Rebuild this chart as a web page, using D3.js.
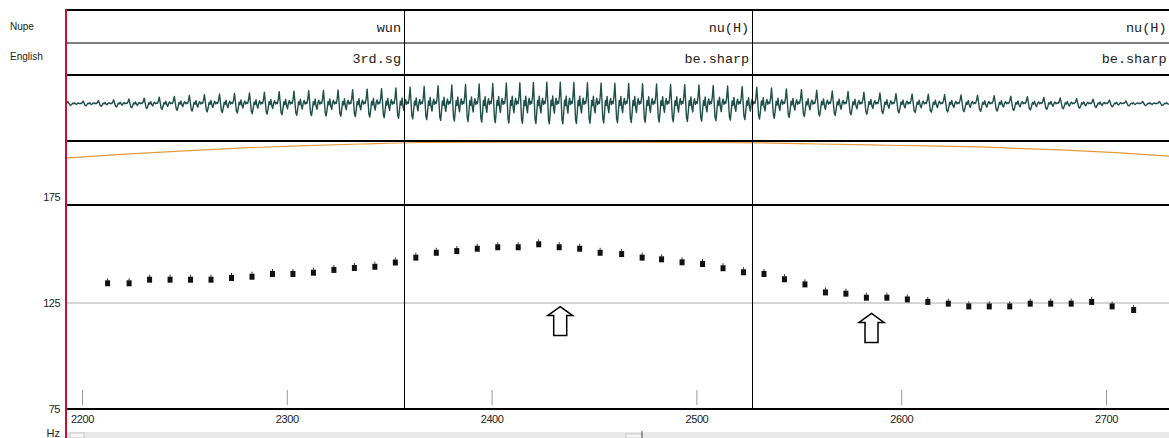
<!DOCTYPE html>
<html>
<head>
<meta charset="utf-8">
<script src="https://cdn.jsdelivr.net/npm/d3@7"></script>
<style>
  html, body { margin: 0; padding: 0; background: #fff; }
  svg { display: block; }
</style>
</head>
<body>
<svg id="chart" width="1169" height="438"></svg>
<script>
// tiers: segment ends (ms) and glosses
const segEnds = [2357, 2527, 2731];
const nupeLabels = ["wun", "nu(H)", "nu(H)"];
const englishLabels = ["3rd.sg", "be.sharp", "be.sharp"];

// pitch track (ms, Hz)
const pitchTimes = [2212.5, 2223, 2233, 2243, 2253, 2263, 2273, 2283, 2293, 2303,
  2313, 2323, 2333, 2343, 2353, 2363, 2373, 2383, 2393, 2403,
  2413, 2423, 2433, 2443, 2453, 2463.5, 2473.5, 2483, 2493, 2503,
  2513, 2523, 2533, 2543, 2553, 2563, 2573, 2583, 2593, 2603,
  2613, 2623, 2633, 2643, 2653, 2663, 2673, 2683, 2693, 2703, 2713.5];
const pitchHz = [134.3, 134.3, 136.0, 136.0, 136.0, 136.0, 136.8, 137.4, 138.7, 138.7,
  139.3, 140.6, 141.5, 142.1, 144.1, 146.4, 148.7, 149.5, 150.6, 151.3,
  151.3, 152.7, 151.3, 150.6, 148.7, 148.1, 146.4, 145.6, 144.2, 143.4,
  141.4, 139.5, 138.7, 136.2, 133.8, 130.0, 129.4, 127.5, 127.5, 126.7,
  125.5, 124.7, 123.4, 123.4, 123.4, 124.7, 124.7, 124.7, 125.5, 123.4, 121.7];

// intensity curve (ms, dB)
const intTimes = [2192, 2219, 2248, 2277, 2306, 2336, 2365, 2404, 2453, 2502, 2531, 2560, 2599, 2638, 2678, 2707, 2731];
const intDb = [72.0, 73.7, 75.3, 76.7, 77.7, 78.6, 79.3, 79.5, 79.5, 79.3, 79.1, 78.6, 77.9, 77.2, 75.8, 74.4, 72.9];

// waveform envelope (ms, relative amplitude) and one glottal period shape
const envTimes = [2192, 2209, 2233, 2258, 2282, 2306, 2331, 2355, 2380, 2404, 2429, 2453,
  2477, 2502, 2526, 2551, 2575, 2599, 2624, 2648, 2673, 2697, 2712, 2731];
const envAmp = [0.09, 0.14, 0.27, 0.41, 0.5, 0.59, 0.64, 0.73, 0.86, 0.95, 1.0, 0.95,
  0.91, 0.86, 0.77, 0.64, 0.55, 0.45, 0.41, 0.36, 0.27, 0.18, 0.1, 0.09];
const pulseShape = [0.0, 0.35, 1.0, 0.15, -0.75, -0.95, -0.45, 0.15, -0.1, 0.35, -0.2, -0.45, 0.05, 0.25, -0.05, 0.1];

// axis ticks
const timeTicks = [2200, 2300, 2400, 2500, 2600, 2700];
const hzTicks = [75, 125, 175];

// markers
const arrowTimes = [2433.5, 2585.5];
const arrowHz = [123.3, 120.1];

const svg = d3.select("#chart");
const left = 66, right = 1169;
const rows = { top: 10, nupe: 43, eng: 75, wave: 141, int: 205, bottom: 409 };

const x = d3.scaleLinear().domain([2200, 2700]).range([82, 1106]);
const tStart = x.invert(left), tEnd = x.invert(right);
const y = d3.scaleLinear().domain([75, 175]).range([409, 197]);
const iy = d3.scaleLinear().domain([50, 80]).range([rows.int, rows.wave]);
const wy = d3.scaleLinear().domain([-1, 1]).range([125, 82]);

// bottom scroll strip
svg.append("rect").attr("x", left).attr("y", 432).attr("width", right - left).attr("height", 6).attr("fill", "#e9e9e9");
svg.append("rect").attr("x", 70).attr("y", 433).attr("width", 14).attr("height", 5).attr("fill", "#f6f6f6").attr("stroke", "#bbb").attr("stroke-width", 0.8);
svg.append("rect").attr("x", 626).attr("y", 434).attr("width", 16).attr("height", 4).attr("fill", "#f6f6f6").attr("stroke", "#bbb").attr("stroke-width", 0.8);
svg.append("line").attr("x1", 642).attr("x2", 642).attr("y1", 431).attr("y2", 438).attr("stroke", "#555");

// grid line at 125
svg.append("line")
  .attr("x1", left).attr("x2", right)
  .attr("y1", y(125)).attr("y2", y(125))
  .attr("stroke", "#aaa").attr("stroke-width", 1);

// x axis ticks (upward) and labels
const xAxis = svg.append("g")
  .attr("transform", "translate(0,405)")
  .call(d3.axisBottom(x).tickValues(timeTicks).tickSize(-15).tickPadding(10).tickFormat(d3.format("d")));
xAxis.select(".domain").remove();
xAxis.selectAll("line").attr("stroke", "#999");
xAxis.selectAll("text")
  .attr("fill", "#222")
  .attr("font-family", "Liberation Sans, Arial, sans-serif")
  .attr("font-size", "11px")
  .attr("letter-spacing", "-0.4px");

// y axis labels
const yAxis = svg.append("g")
  .attr("transform", `translate(${left},0)`)
  .call(d3.axisLeft(y).tickValues(hzTicks).tickSize(0).tickPadding(6));
yAxis.select(".domain").remove();
yAxis.selectAll("text")
  .attr("fill", "#222")
  .attr("font-family", "Liberation Sans, Arial, sans-serif")
  .attr("font-size", "11px")
  .attr("letter-spacing", "-0.5px");

svg.append("text").attr("x", 60).attr("y", 437).attr("text-anchor", "end")
  .attr("font-family", "Liberation Sans, Arial, sans-serif").attr("font-size", "11px").attr("fill", "#222")
  .text("Hz");

// tier names
const tierFont = "Liberation Sans, Arial, sans-serif";
svg.append("text").attr("x", 10).attr("y", 30).attr("font-family", tierFont).attr("font-size", "10px").attr("fill", "#222").text("Nupe");
svg.append("text").attr("x", 10).attr("y", 60).attr("font-family", tierFont).attr("font-size", "10px").attr("fill", "#222").text("English");

// waveform built from pulse shape, pitch periods and envelope
const f0At = d3.scaleLinear().domain(pitchTimes).range(pitchHz).clamp(true);
const envAt = d3.scaleLinear().domain(envTimes).range(envAmp).clamp(true);
const wavePts = [];
for (let t = tStart; t < tEnd;) {
  const period = 1000 / f0At(t);
  const amp = envAt(t);
  pulseShape.forEach((v, i) => wavePts.push([t + period * i / pulseShape.length, v * amp]));
  t += period;
}
svg.append("path")
  .datum(wavePts.filter((d) => d[0] <= tEnd))
  .attr("fill", "none")
  .attr("stroke", "#1e4f49")
  .attr("stroke-width", 1.4)
  .attr("stroke-linejoin", "round")
  .attr("d", d3.line().x((d) => x(d[0])).y((d) => wy(d[1])));

// intensity curve
svg.append("path")
  .datum(intTimes.map((t, i) => [t, intDb[i]]))
  .attr("fill", "none")
  .attr("stroke", "#e79a3c")
  .attr("stroke-width", 1.2)
  .attr("d", d3.line().x((d) => x(d[0])).y((d) => iy(d[1])).curve(d3.curveMonotoneX));

// horizontal frame lines
const hLines = [
  { y: rows.top, w: 2 }, { y: rows.nupe, w: 1 }, { y: rows.eng, w: 2 },
  { y: rows.wave, w: 2 }, { y: rows.int, w: 2 }, { y: rows.bottom, w: 2 }
];
svg.selectAll(".hline").data(hLines).join("line")
  .attr("class", "hline")
  .attr("x1", left).attr("x2", right)
  .attr("y1", (d) => d.y).attr("y2", (d) => d.y)
  .attr("stroke", "#000").attr("stroke-width", (d) => d.w);

// segment boundaries
svg.selectAll(".bound").data(segEnds.slice(0, -1)).join("line")
  .attr("class", "bound")
  .attr("x1", (d) => Math.round(x(d)) + 0.5).attr("x2", (d) => Math.round(x(d)) + 0.5)
  .attr("y1", rows.top).attr("y2", rows.bottom)
  .attr("stroke", "#000").attr("stroke-width", 1);

// segment labels
const mono = "Liberation Mono, Courier New, monospace";
svg.selectAll(".nupe").data(segEnds).join("text")
  .attr("class", "nupe")
  .attr("x", (d) => Math.min(x(d), right) - 2.5).attr("y", 32)
  .attr("text-anchor", "end").attr("font-family", mono).attr("font-size", "13.5px").attr("fill", "#222")
  .text((d, i) => nupeLabels[i]);
svg.selectAll(".eng").data(segEnds).join("text")
  .attr("class", "eng")
  .attr("x", (d) => Math.min(x(d), right) - 2.5).attr("y", 63)
  .attr("text-anchor", "end").attr("font-family", mono).attr("font-size", "13.5px").attr("fill", "#222")
  .text((d, i) => englishLabels[i]);

// pitch points
const pts = svg.append("g").selectAll("g").data(pitchTimes).join("g")
  .attr("transform", (d, i) => `translate(${x(d)},${y(pitchHz[i])})`);
pts.append("rect").attr("x", -2.5).attr("y", -3).attr("width", 5).attr("height", 6).attr("fill", "#111");
pts.append("line").attr("x1", 0).attr("x2", 0).attr("y1", -5).attr("y2", -3).attr("stroke", "#333").attr("stroke-width", 1);

// hollow up arrows
const arrowPath = "M0,0 L12.5,9 L6.5,9 L6.5,29 L-6.5,29 L-6.5,9 L-12.5,9 Z";
svg.selectAll(".arrow").data(arrowTimes).join("path")
  .attr("class", "arrow")
  .attr("transform", (d, i) => `translate(${x(d)},${y(arrowHz[i])})`)
  .attr("d", arrowPath)
  .attr("fill", "#fff").attr("stroke", "#000").attr("stroke-width", 1.5);

// left red cursor line
svg.append("line")
  .attr("x1", left).attr("x2", left).attr("y1", rows.top - 1).attr("y2", 438)
  .attr("stroke", "#c8102e").attr("stroke-width", 2);
</script>
</body>
</html>
